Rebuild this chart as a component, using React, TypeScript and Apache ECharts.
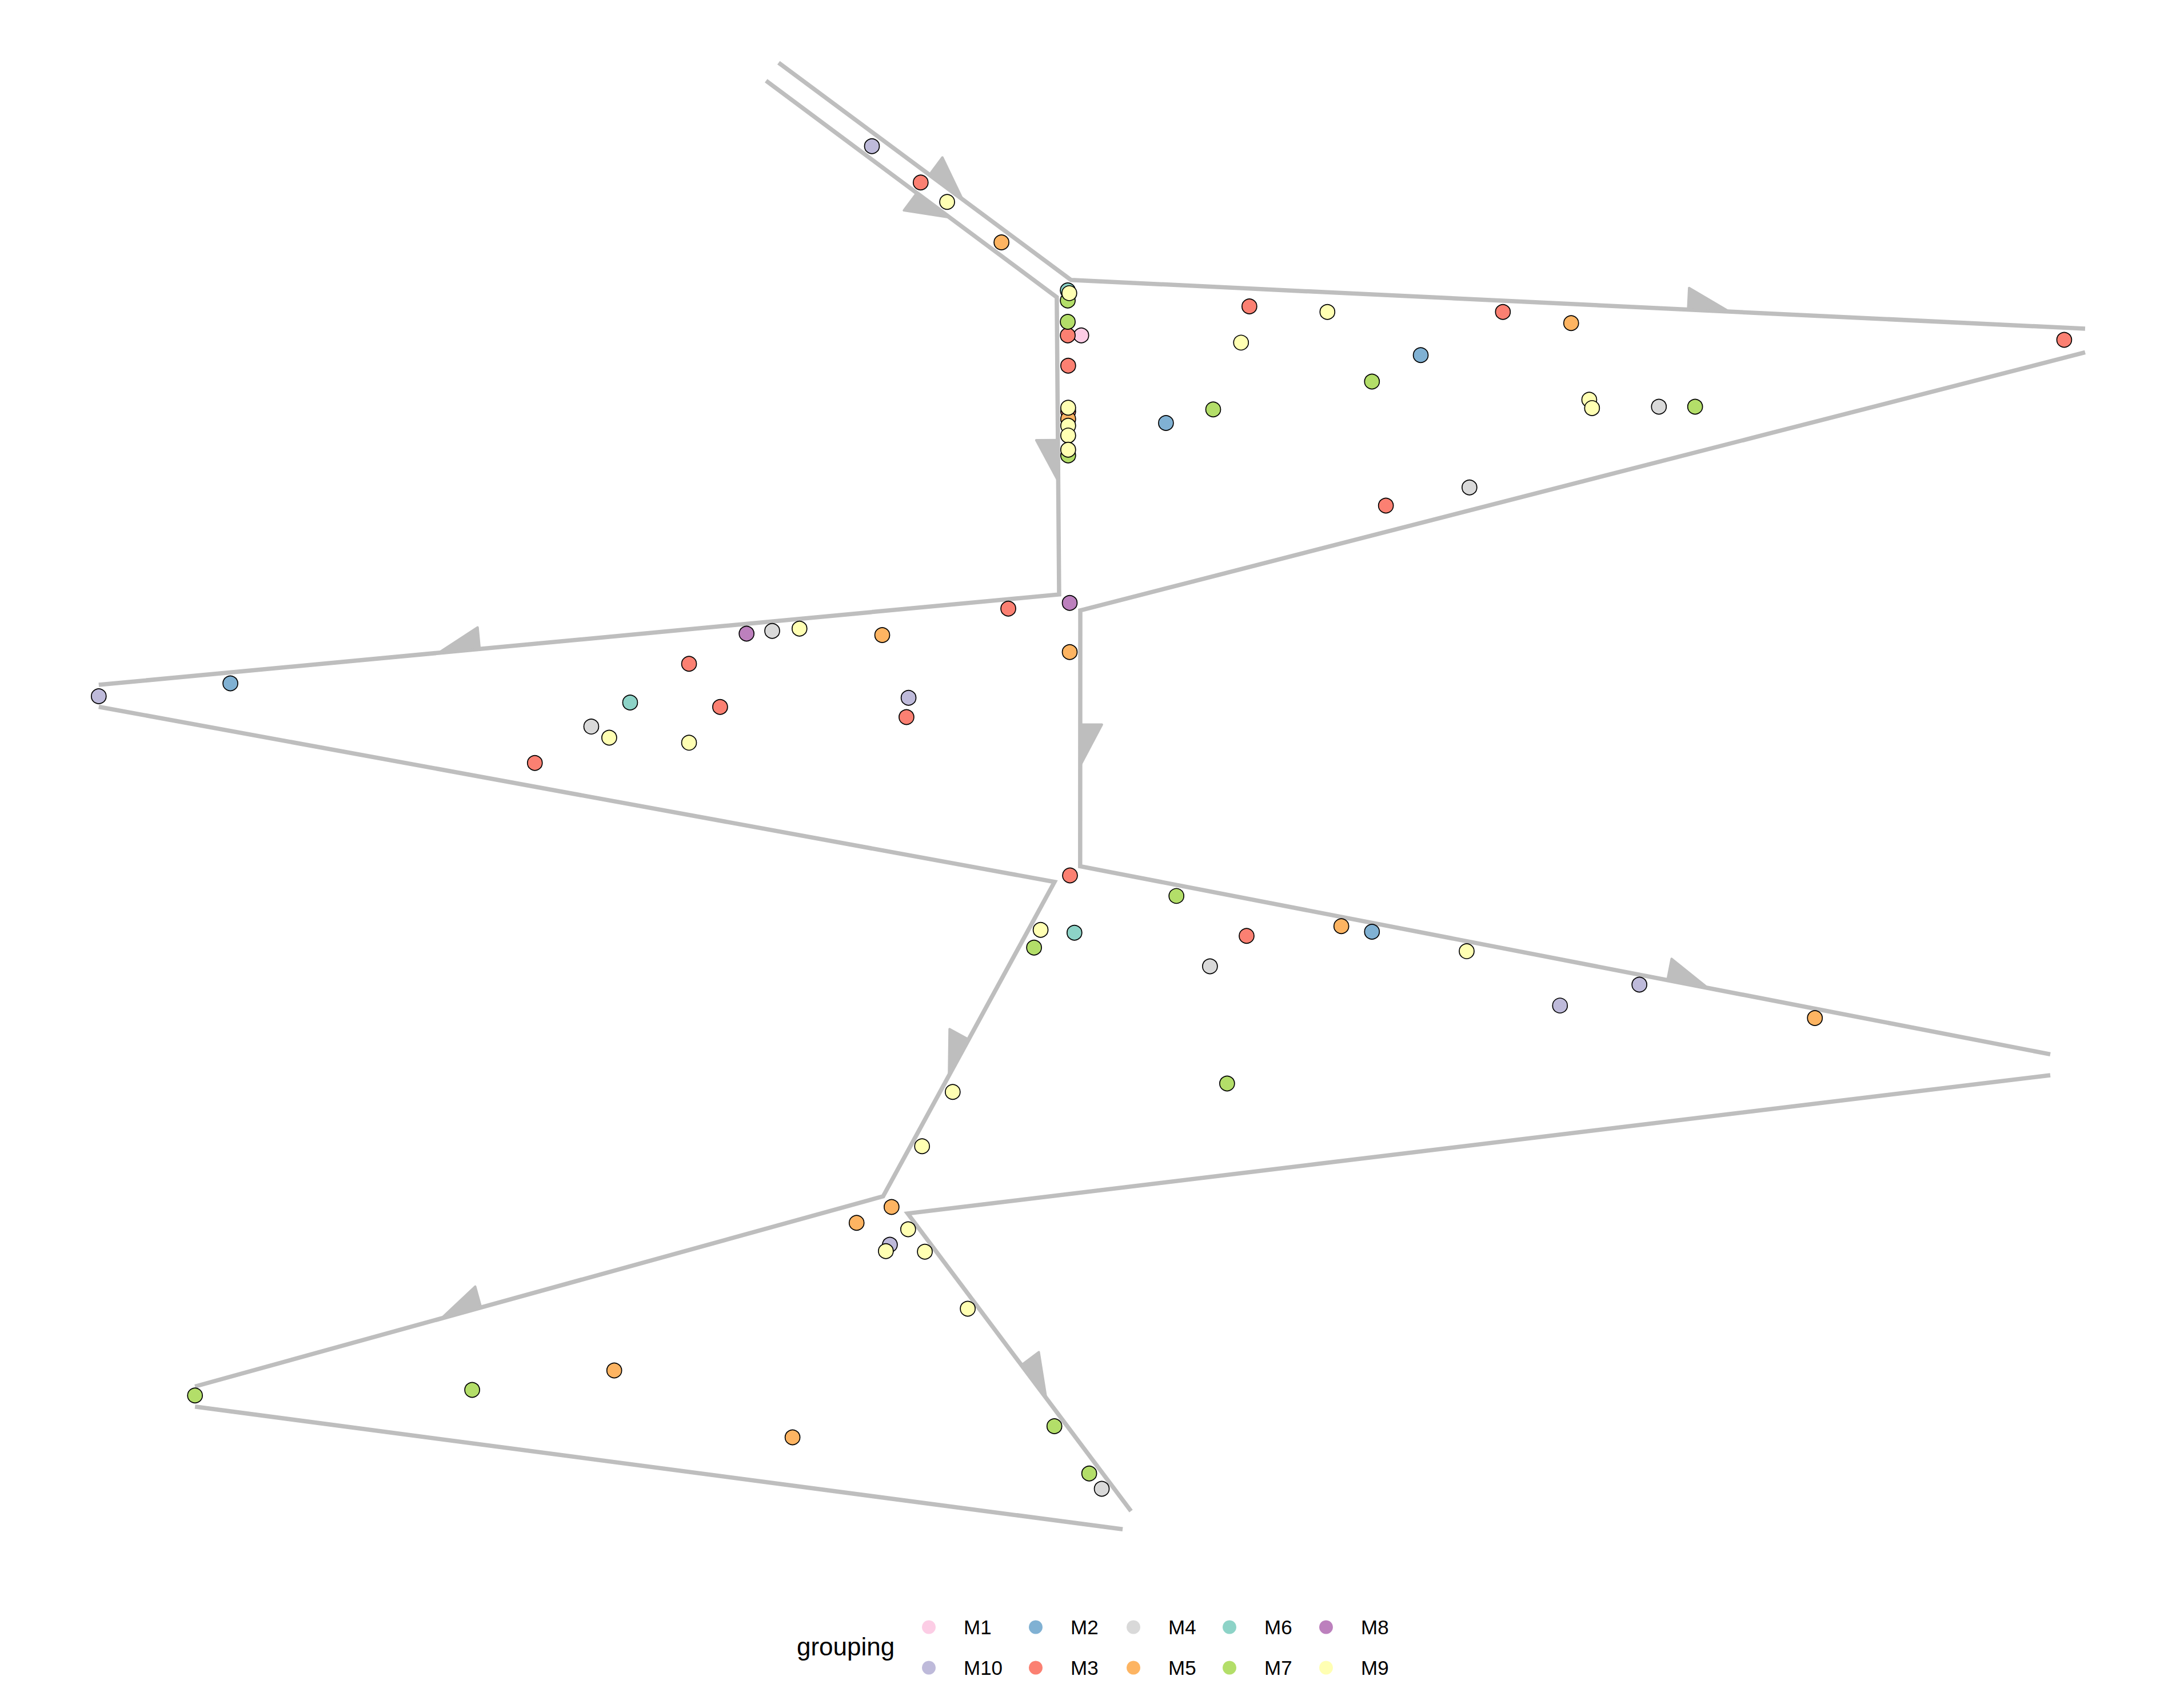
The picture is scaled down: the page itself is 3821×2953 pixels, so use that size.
import React, { useEffect, useRef } from "react";
import * as echarts from "echarts";

// ---- data (plot units: 1568 x 1212 canvas space, y downward) ----
const groupNames = ["M1", "M10", "M2", "M3", "M4", "M5", "M6", "M7", "M8", "M9"];
const groupColors: Record<string, string> = {
  M1: "#FCCDE5", M10: "#BEBADA", M2: "#80B1D3", M3: "#FB8072", M4: "#D9D9D9",
  M5: "#FDB462", M6: "#8DD3C7", M7: "#B3DE69", M8: "#BC80BD", M9: "#FFFFB3",
};

const pointsM1 = [[776.3, 240.8]];
const pointsM10 = [[626, 105], [70.9, 499.9], [652.3, 501], [1177, 707], [1120, 722], [638.9, 893.7]];
const pointsM2 = [[1020, 255], [837.1, 303.7], [165.4, 490.7], [985, 669]];
const pointsM3 = [[661, 131], [766.6, 240.8], [766.9, 262.6], [766.9, 295.4], [897, 220], [1079, 224], [995, 363], [1482, 244], [723.9, 437], [494.7, 476.6], [517, 507.6], [650.8, 514.9], [384, 547.8], [768.2, 628.6], [895, 672]];
const pointsM4 = [[1191, 292], [1055, 350], [554.4, 453], [424.5, 521.7], [868.7, 693.8], [791, 1069]];
const pointsM5 = [[719, 174], [766.9, 300.8], [1128, 232], [768, 468.2], [633.4, 456], [963, 665], [1303, 731], [640.1, 866.6], [615, 878], [441, 984], [569, 1032]];
const pointsM6 = [[766.6, 208.5], [452.4, 504.4], [771.4, 669.7]];
const pointsM7 = [[766.6, 215.8], [766.6, 231.1], [766.9, 327], [985, 274], [871, 294], [1217, 292], [844.6, 643.3], [742.4, 680.4], [881, 778], [339, 998], [140, 1002], [757, 1024], [782, 1058]];
const pointsM8 = [[768, 432.9], [536, 455]];
const pointsM9 = [[680, 145], [767.7, 210.5], [766.9, 292.7], [766.9, 305.7], [766.9, 312.7], [766.9, 322.9], [953, 224], [891, 246], [1141, 287], [1143, 293], [574, 451.4], [437.4, 529.7], [494.7, 533.3], [747.1, 667.7], [1053, 683], [684, 784], [662, 823], [652, 882.6], [636, 898.3], [664, 898.7], [694.8, 939.7]];

const groupPoints: Record<string, number[][]> = {
  M1: pointsM1, M10: pointsM10, M2: pointsM2, M3: pointsM3, M4: pointsM4,
  M5: pointsM5, M6: pointsM6, M7: pointsM7, M8: pointsM8, M9: pointsM9,
};

// trajectory outline polylines
const lineA = [[559, 45], [768.9, 201], [1497, 236]];
const lineB = [[550, 58], [758.7, 213.4], [760.4, 426.8], [70.9, 491.7]];
const lineC = [[1497, 253], [775.6, 438.3], [775.5, 622], [1472, 757]];
const lineD = [[70.9, 507.5], [757.1, 633.2], [634, 859], [140, 995.5]];
const lineE = [[1472, 772], [651.7, 871.3], [812, 1085]];
const lineF = [[140, 1010], [806, 1098]];

const lines: Record<string, number[][]> = { A: lineA, B: lineB, C: lineC, D: lineD, E: lineE, F: lineF };
// side: +1 -> arrow on (dy,-dx) side, -1 -> on (-dy,dx) side
const lineSide: Record<string, number> = { A: 1, B: -1, C: 1, D: -1, E: 1, F: 1 };

// arrows: line, segment index, position of the tip along the segment
const arrowLines = ["A", "A", "B", "B", "B", "C", "C", "D", "D", "E"];
const arrowSegments = [0, 1, 0, 1, 2, 1, 2, 1, 2, 1];
const arrowPositions = [0.629, 0.649, 0.632, 0.619, 0.646, 0.607, 0.647, 0.616, 0.642, 0.62];

// legend layout (row-major as in reference)
const legendRow1 = ["M1", "M2", "M4", "M6", "M8"];
const legendRow2 = ["M10", "M3", "M5", "M7", "M9"];

const W = 3821;
const H = 2953;
const GRAY = "#BEBEBE";
const FONT = "'Liberation Sans', Arial, Helvetica, sans-serif";

export default function App() {
  const ref = useRef<HTMLDivElement>(null);
  useEffect(() => {
    document.body.style.margin = "0";
    if (!ref.current) return;
    const chart = echarts.init(ref.current, undefined, { renderer: "svg" });

    const lineSeries = Object.keys(lines).map((k) => ({
      type: "line",
      name: "edge" + k,
      data: lines[k],
      showSymbol: false,
      symbol: "none",
      silent: true,
      z: 1,
      lineStyle: { color: GRAY, width: 7.5, cap: "butt", join: "miter", miterLimit: 20 },
      emphasis: { disabled: true },
    }));

    const arrowData = arrowLines.map((ln, i) => {
      const pts = lines[ln];
      const s = arrowSegments[i];
      return [pts[s][0], pts[s][1], pts[s + 1][0], pts[s + 1][1], arrowPositions[i], lineSide[ln]];
    });

    const arrowSeries = {
      type: "custom",
      name: "arrows",
      silent: true,
      z: 2,
      data: arrowData,
      renderItem: (params: any, api: any) => {
        const p1 = api.coord([api.value(0), api.value(1)]);
        const p2 = api.coord([api.value(2), api.value(3)]);
        const t = api.value(4);
        const side = api.value(5);
        const vx = p2[0] - p1[0];
        const vy = p2[1] - p1[1];
        const len = Math.sqrt(vx * vx + vy * vy);
        const dx = vx / len;
        const dy = vy / len;
        const tip = [p1[0] + vx * t, p1[1] + vy * t];
        const L = 72;
        const Wd = 38;
        const base = [tip[0] - dx * L, tip[1] - dy * L];
        const nx = side > 0 ? dy : -dy;
        const ny = side > 0 ? -dx : dx;
        const outer = [base[0] + nx * Wd, base[1] + ny * Wd];
        return {
          type: "polygon",
          shape: { points: [base, outer, tip] },
          style: { fill: GRAY, stroke: GRAY, lineWidth: 4, lineJoin: "round" },
        };
      },
    };

    const pointSeries = groupNames.map((g) => ({
      type: "scatter",
      name: g,
      data: groupPoints[g],
      symbol: "circle",
      symbolSize: 26,
      z: 3,
      itemStyle: { color: groupColors[g], borderColor: "#000", borderWidth: 1.7, opacity: 1 },
      emphasis: { disabled: true },
    }));

    const colX = [1625, 1812, 1983, 2151, 2320];
    const rowY = [2841, 2912];
    const legends: any[] = [];
    [legendRow1, legendRow2].forEach((row, r) => {
      row.forEach((name, c) => {
        legends.push({
          data: [{ name, icon: "circle", itemStyle: { color: groupColors[name], borderWidth: 0 } }],
          left: colX[c] - 12,
          top: rowY[r] - 12,
          orient: "horizontal",
          padding: 0,
          itemGap: 0,
          itemWidth: 24,
          itemHeight: 24,
          selectedMode: false,
          textStyle: { fontSize: 35, color: "#000", fontFamily: FONT, padding: [0, 0, 0, 44] },
        });
      });
    });

    chart.setOption({
      animation: false,
      backgroundColor: "#fff",
      grid: { left: 0, right: 0, top: 0, bottom: 0 },
      xAxis: { type: "value", min: 0, max: 1568, show: false },
      yAxis: { type: "value", min: 0, max: 1212, inverse: true, show: false },
      legend: legends,
      graphic: [
        {
          type: "text",
          left: 1394,
          top: 2858,
          style: { text: "grouping", fontSize: 44, fill: "#000", fontFamily: FONT },
        },
      ],
      series: [...lineSeries, arrowSeries, ...pointSeries],
    });
    return () => chart.dispose();
  }, []);
  return <div ref={ref} style={{ width: W, height: H }} />;
}
